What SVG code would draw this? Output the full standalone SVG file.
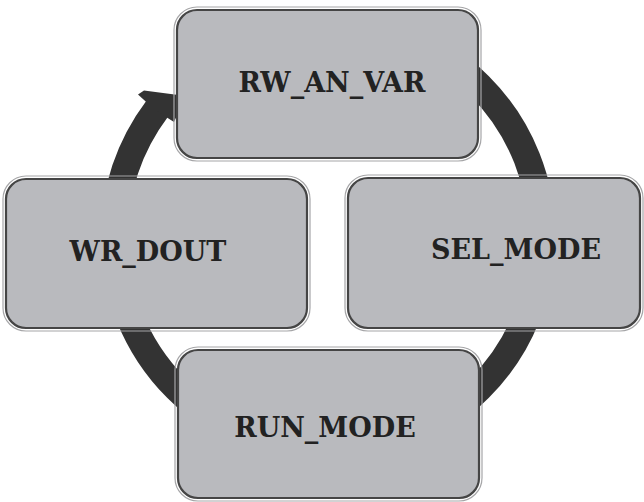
<svg xmlns="http://www.w3.org/2000/svg" width="644" height="502" viewBox="0 0 644 502">
  <style>
    .ring { fill: none; stroke: #333333; stroke-width: 27; }
    .head { fill: #333333; }
    .box { fill: #b9babe; stroke: #454545; stroke-width: 2.2; }
    .bevel { fill: none; stroke: #a6a6a8; stroke-width: 1.2; }
    .label { font-family: "DejaVu Serif", "Liberation Serif", serif; font-weight: bold; font-size: 27px; fill: #222222; text-anchor: middle; }
  </style>
  <rect width="644" height="502" fill="#ffffff"/>

  <!-- cycle ring: four arc segments around centre (328,237), r=214 -->
  <g id="connectors">
    <path class="ring" d="M328,23 A214,214 0 0 1 542,237"/>
    <path class="ring" d="M542,237 A214,214 0 0 1 328,451"/>
    <path class="ring" d="M328,451 A214,214 0 0 1 114,237"/>
    <path class="ring" d="M114,237 A214,214 0 0 1 157,109"/>
    <polygon class="head" points="138,94.5 144,90.5 186,96 174,122 155,110"/>
  </g>

  <g id="rw_an_var">
    <rect class="bevel" x="174" y="7" width="307" height="154" rx="23"/>
    <rect class="box" x="177" y="10" width="301" height="148" rx="20"/>
    <text class="label" x="332" y="92">RW_AN_VAR</text>
  </g>

  <g id="sel_mode">
    <rect class="bevel" x="345" y="175" width="298" height="156" rx="23"/>
    <rect class="box" x="348" y="178" width="292" height="150" rx="20"/>
    <text class="label" x="516" y="259">SEL_MODE</text>
  </g>

  <g id="run_mode">
    <rect class="bevel" x="175" y="347" width="307" height="154" rx="23"/>
    <rect class="box" x="178" y="350" width="301" height="148" rx="20"/>
    <text class="label" x="325" y="437">RUN_MODE</text>
  </g>

  <g id="wr_dout">
    <rect class="bevel" x="3" y="176" width="307" height="155" rx="23"/>
    <rect class="box" x="6" y="179" width="301" height="149" rx="20"/>
    <text class="label" x="148" y="261">WR_DOUT</text>
  </g>
</svg>
